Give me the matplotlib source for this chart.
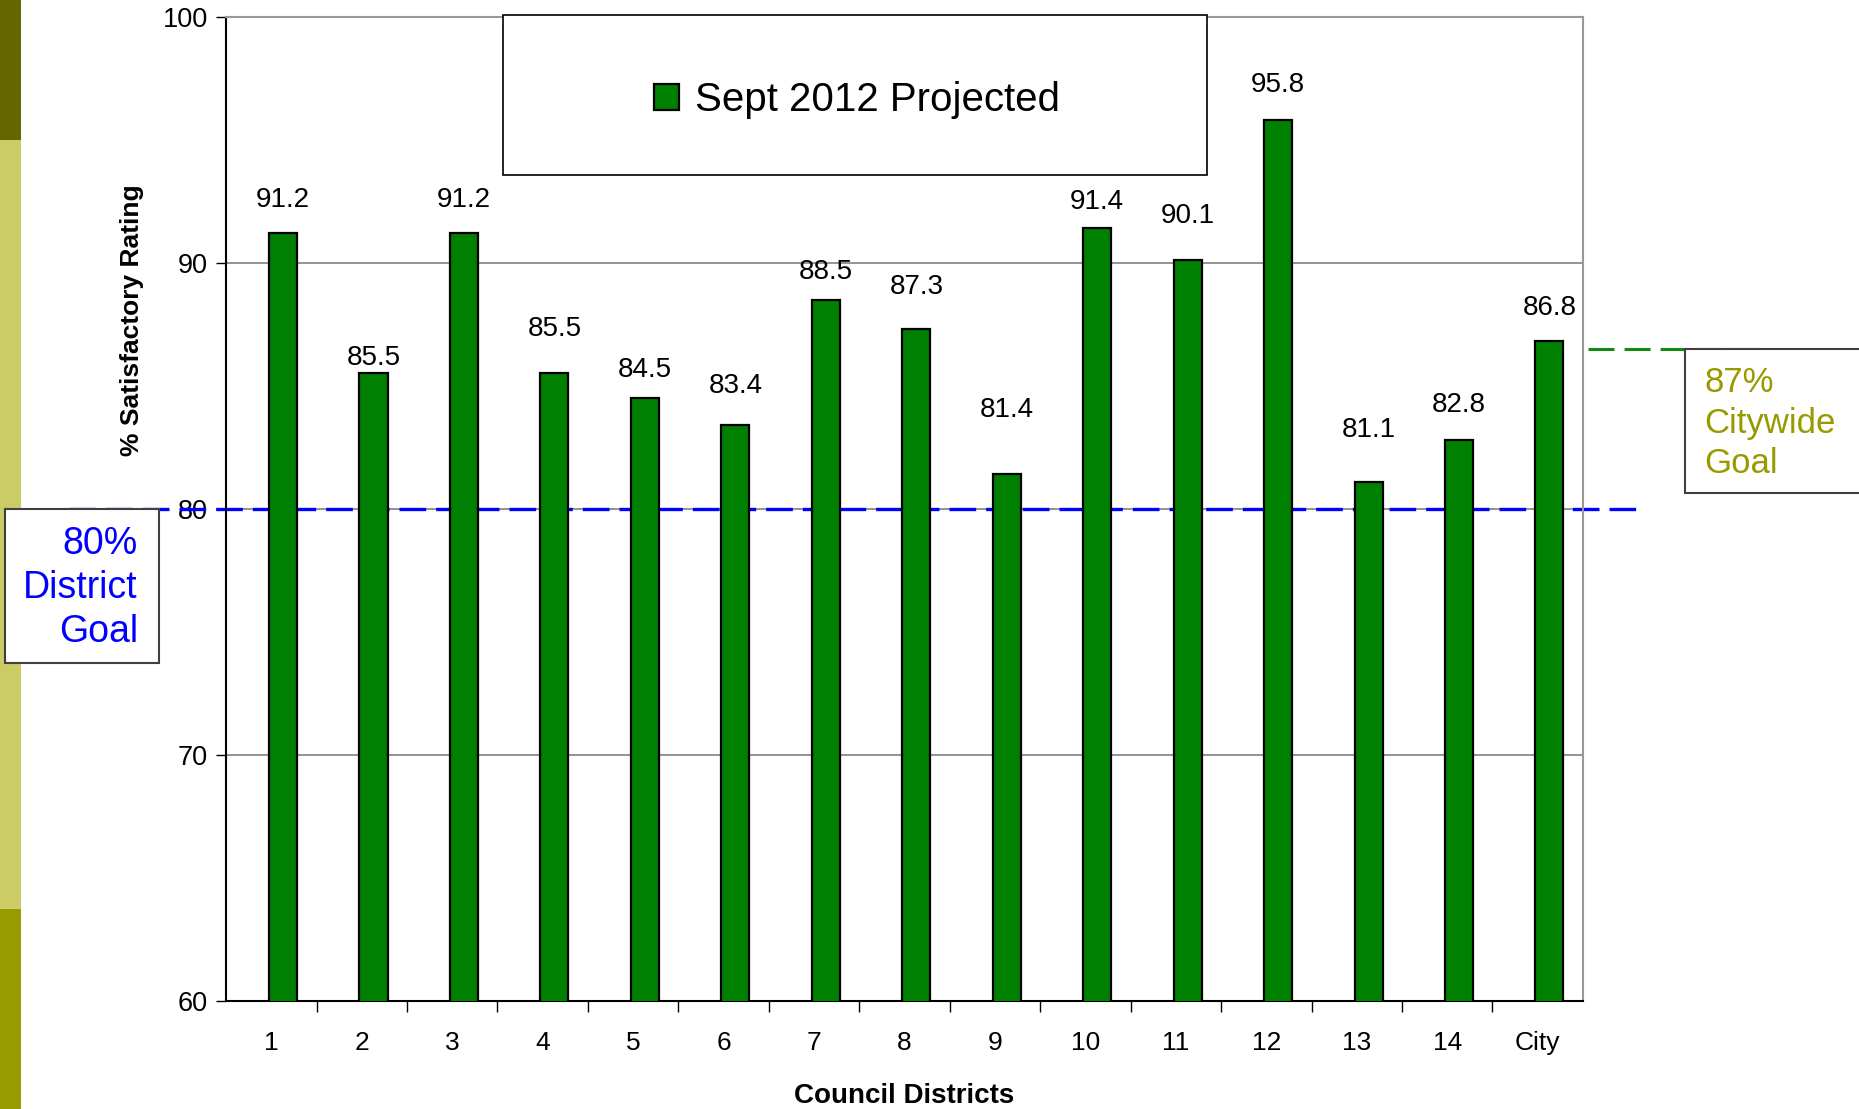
import matplotlib.pyplot as plt
from matplotlib.patches import Rectangle

plt.rcParams['font.family'] = ['Liberation Sans', 'DejaVu Sans']

districts = ['1', '2', '3', '4', '5', '6', '7', '8', '9', '10', '11', '12', '13', '14', 'City']
ratings = [91.2, 85.5, 91.2, 85.5, 84.5, 83.4, 88.5, 87.3, 81.4, 91.4, 90.1, 95.8, 81.1, 82.8, 86.8]
district_goal = 80
city_goal_line = 86.5

# label lift above each bar (points), the labels were nudged by hand in the original
label_lift = [24, 11, 24, 32, 20, 28, 20, 30, 46, 19, 32, 25, 37, 25, 24]

fig = plt.figure(figsize=(18.59, 11.09), dpi=100)
ax = fig.add_axes([0.1216, 0.0977, 0.7299, 0.8873])

# side strip of the slide
strip_w = 21 / 1859
fig.add_artist(Rectangle((0, 1 - 140 / 1109), strip_w, 140 / 1109, transform=fig.transFigure,
                         color='#666600', lw=0))
fig.add_artist(Rectangle((0, 1 - 909 / 1109), strip_w, 769 / 1109, transform=fig.transFigure,
                         color='#CCCC66', lw=0))
fig.add_artist(Rectangle((0, 0), strip_w, 1 - 909 / 1109, transform=fig.transFigure,
                         color='#999900', lw=0))

x = list(range(len(districts)))
bar_x = [i + 0.13 for i in x]
bars = ax.bar(bar_x, ratings, width=0.31, color='#008000', edgecolor='black', linewidth=1.6,
              zorder=3, label='Sept 2012 Projected')

for bx, val, lift in zip(bar_x, ratings, label_lift):
    ax.annotate(f'{val:.1f}', (bx, val), xytext=(0, lift), textcoords='offset points',
                ha='center', va='center', fontsize=20, zorder=4)

ax.set_xlim(-0.5, len(districts) - 0.5)
ax.set_ylim(60, 100)
ax.set_yticks([60, 70, 80, 90, 100])
ax.set_xticks(x)
ax.set_xticklabels(districts)
ax.set_xticks([i + 0.5 for i in x[:-1]], minor=True)
ax.tick_params(axis='x', which='major', length=0, pad=22, labelsize=19)
ax.tick_params(axis='x', which='minor', length=8, width=1, direction='out')
ax.tick_params(axis='y', length=7, width=1, direction='out', pad=6, labelsize=19.5)

ax.yaxis.grid(True, color='#808080', linewidth=1.2, zorder=0)
ax.set_axisbelow(True)
for side in ['top', 'right']:
    ax.spines[side].set_color('#999999')
    ax.spines[side].set_linewidth(1.5)
for side in ['left', 'bottom']:
    ax.spines[side].set_color('black')
    ax.spines[side].set_linewidth(1.5)

ax.set_xlabel('Council Districts', fontsize=20, fontweight='bold', va='center')
ax.xaxis.set_label_coords(0.5, -0.097)
ax.set_ylabel('% Satisfactory Rating', fontsize=19, fontweight='bold', va='center', ha='center')
ax.yaxis.set_label_coords(-0.069, 0.692)

# goal lines
ytr = ax.get_yaxis_transform()
ax.plot([-0.116, 1.039], [district_goal, district_goal], transform=ytr, color='#0000FF',
        linewidth=2.4, linestyle=(0, (8, 3)), clip_on=False, zorder=2)
ax.plot([1.004, 1.133], [city_goal_line, city_goal_line], transform=ytr, color='#138A13',
        linewidth=2.2, linestyle=(0, (8.5, 3.3)), clip_on=False, zorder=5)

# goal boxes
fig.add_artist(Rectangle((5 / 1859, 1 - 663 / 1109), 154 / 1859, 154 / 1109,
                         transform=fig.transFigure, facecolor='white', edgecolor='#404040', lw=1.5))
fig.text(138 / 1859, 1 - 588 / 1109, '80%\nDistrict\nGoal', ha='right', va='center',
         color='#0000FF', fontsize=27, linespacing=1.3)

fig.add_artist(Rectangle((1685 / 1859, 1 - 493 / 1109), 200 / 1859, 144 / 1109,
                         transform=fig.transFigure, facecolor='white', edgecolor='#404040', lw=1.5))
fig.text(1704 / 1859, 1 - 423 / 1109, '87%\nCitywide\nGoal', ha='left', va='center',
         color='#999900', fontsize=25, linespacing=1.3)

# legend in its own box
fig.add_artist(Rectangle((503 / 1859, 1 - 175 / 1109), 704 / 1859, 160 / 1109,
                         transform=fig.transFigure, facecolor='white', edgecolor='black',
                         lw=1.2, zorder=3))
leg = fig.legend(handles=[bars], loc='center', bbox_to_anchor=(857 / 1859, 1 - 100 / 1109),
                 frameon=False, fontsize=29, handlelength=0.62, handleheight=0.62,
                 handletextpad=0.4)
leg.set_zorder(4)

fig.savefig('out.png', dpi=100)
